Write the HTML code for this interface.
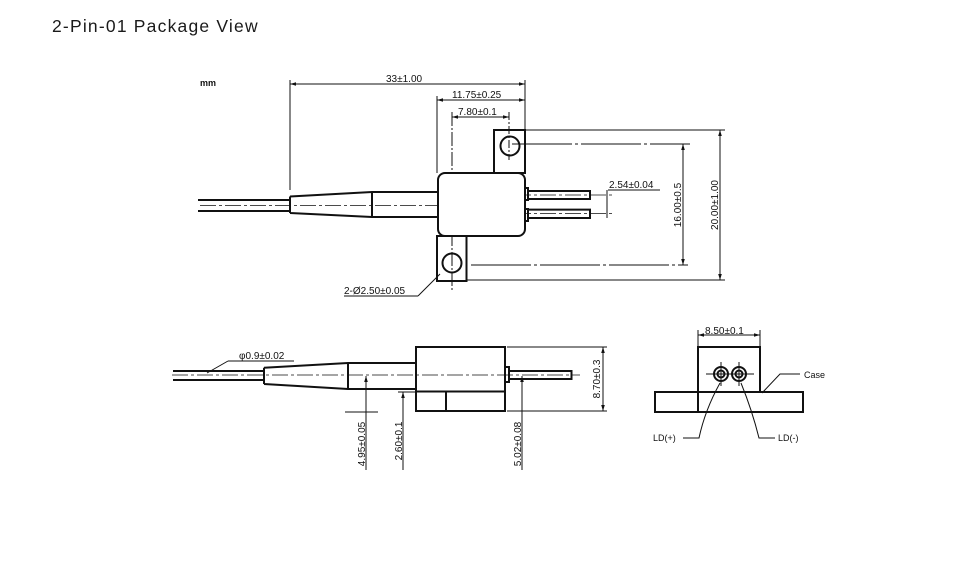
<!DOCTYPE html>
<html><head><meta charset="utf-8"><style>
html,body{margin:0;padding:0;background:#fff;width:954px;height:572px;overflow:hidden}
svg{display:block}
text{font-family:"Liberation Sans",sans-serif;fill:#111}
.t{font-size:10px}
</style></head><body>
<svg width="954" height="572" viewBox="0 0 954 572" xmlns="http://www.w3.org/2000/svg">
<defs>
<marker id="a" viewBox="0 0 10 10" refX="10" refY="5" markerWidth="6" markerHeight="6" orient="auto-start-reverse"><path d="M0 2 L10 5 L0 8z" fill="#111"/></marker>
</defs>
<text x="52" y="32" style="font-size:17.5px;letter-spacing:1.2px;fill:#1a1a1a">2-Pin-01 Package View</text>
<text x="200" y="86" style="font-size:9px;font-weight:bold">mm</text>

<g fill="none" stroke="#111" stroke-width="1">
 <line x1="290" y1="84" x2="525" y2="84" marker-start="url(#a)" marker-end="url(#a)"/>
 <line x1="290" y1="80" x2="290" y2="190"/>
 <line x1="525" y1="80" x2="525" y2="130"/>
 <line x1="437" y1="100" x2="525" y2="100" marker-start="url(#a)" marker-end="url(#a)"/>
 <line x1="437" y1="96" x2="437" y2="173"/>
 <line x1="452" y1="117" x2="509" y2="117" marker-start="url(#a)" marker-end="url(#a)"/>
 <line x1="509" y1="112" x2="509" y2="160" stroke-dasharray="8 2 2 2"/>
 <line x1="452" y1="112" x2="452" y2="290" stroke-dasharray="14 2 2 2"/>
 <line x1="525" y1="130" x2="725" y2="130"/>
 <line x1="512" y1="144" x2="690" y2="144" stroke-dasharray="60 3 3 3"/>
 <line x1="471" y1="265" x2="688" y2="265" stroke-dasharray="60 3 3 3"/>
 <line x1="466" y1="280" x2="725" y2="280"/>
 <line x1="683" y1="144" x2="683" y2="265" marker-start="url(#a)" marker-end="url(#a)"/>
 <line x1="720" y1="130" x2="720" y2="280" marker-start="url(#a)" marker-end="url(#a)"/>
 <line x1="607" y1="190" x2="607" y2="218"/>
 <line x1="608" y1="190" x2="660" y2="190"/>
 <line x1="344" y1="296" x2="418" y2="296"/>
 <line x1="418" y1="296" x2="440" y2="274"/>
 <line x1="200" y1="205.5" x2="438" y2="205.5" stroke-dasharray="16 3 3 3" stroke-width="0.7"/>
 <line x1="515" y1="195" x2="612" y2="195" stroke-dasharray="16 3 3 3" stroke-width="0.7"/>
 <line x1="515" y1="213.5" x2="612" y2="213.5" stroke-dasharray="16 3 3 3" stroke-width="0.7"/>
</g>
<g fill="none" stroke="#111" stroke-width="2">
 <rect x="494" y="130" width="31" height="43"/>
 <circle cx="510" cy="146" r="9.5"/>
 <rect x="438" y="173" width="87" height="63" rx="7" fill="#fff"/>
 <rect x="437" y="236" width="29.5" height="45"/>
 <circle cx="452" cy="263" r="9.5"/>
 <line x1="198" y1="200" x2="290" y2="200"/>
 <line x1="198" y1="211" x2="290" y2="211"/>
 <path d="M290 196.5 L372 192 L438 192 M290 213 L372 217 L438 217 M290 196.5 V213 M372 192 V217"/>
 <rect x="525" y="188" width="3" height="12"/>
 <rect x="525" y="209" width="3" height="12"/>
 <path d="M528 191 H590 V199 H528 M528 209.6 H590 V218 H528"/>
</g>
<g fill="#111">
 <text class="t" x="386" y="82">33±1.00</text>
 <text class="t" x="452" y="98">11.75±0.25</text>
 <text class="t" x="458" y="115">7.80±0.1</text>
 <text class="t" x="609" y="188">2.54±0.04</text>
 <text class="t" transform="translate(681,205) rotate(-90)" text-anchor="middle">16.00±0.5</text>
 <text class="t" transform="translate(718,205) rotate(-90)" text-anchor="middle">20.00±1.00</text>
 <text class="t" x="344" y="294">2-Ø2.50±0.05</text>
</g>

<g fill="none" stroke="#111" stroke-width="1">
 <line x1="172" y1="375" x2="580" y2="375" stroke-dasharray="16 3 3 3" stroke-width="0.7"/>
 <line x1="228" y1="361" x2="294" y2="361"/>
 <line x1="228" y1="361" x2="207" y2="373"/>
 <line x1="366" y1="376" x2="366" y2="470" marker-start="url(#a)"/>
 <line x1="345" y1="412" x2="378" y2="412"/>
 <line x1="403" y1="392" x2="403" y2="470" marker-start="url(#a)"/>
 <line x1="398" y1="392" x2="416" y2="392"/>
 <line x1="522" y1="376" x2="522" y2="470" marker-start="url(#a)"/>
 <line x1="507" y1="347" x2="607" y2="347"/>
 <line x1="507" y1="411" x2="607" y2="411"/>
 <line x1="603" y1="347" x2="603" y2="411" marker-start="url(#a)" marker-end="url(#a)"/>
</g>
<g fill="none" stroke="#111" stroke-width="2">
 <line x1="173" y1="371" x2="264" y2="371"/>
 <line x1="173" y1="380" x2="264" y2="380"/>
 <path d="M264 367.7 L348 363 L416 363 M264 384 L348 389 L416 389 M264 367.7 V384 M348 363 V389"/>
 <rect x="416" y="347" width="89" height="64"/>
 <line x1="416" y1="391.5" x2="505" y2="391.5"/>
 <line x1="446" y1="391.5" x2="446" y2="411"/>
 <rect x="505" y="367" width="4" height="15"/>
 <path d="M509 371 H571.5 V379 H509"/>
</g>
<g fill="#111">
 <text class="t" x="239" y="359">φ0.9±0.02</text>
 <text class="t" transform="translate(365,444) rotate(-90)" text-anchor="middle">4.95±0.05</text>
 <text class="t" transform="translate(402,441) rotate(-90)" text-anchor="middle">2.60±0.1</text>
 <text class="t" transform="translate(521,444) rotate(-90)" text-anchor="middle">5.02±0.08</text>
 <text class="t" transform="translate(600,379) rotate(-90)" text-anchor="middle">8.70±0.3</text>
</g>

<g fill="none" stroke="#111" stroke-width="1">
 <line x1="698" y1="335" x2="760" y2="335" marker-start="url(#a)" marker-end="url(#a)"/>
 <line x1="698" y1="330" x2="698" y2="347"/>
 <line x1="760" y1="330" x2="760" y2="347"/>
 <line x1="706" y1="374" x2="754" y2="374"/>
 <line x1="721" y1="362" x2="721" y2="386"/>
 <line x1="739" y1="362" x2="739" y2="386"/>
 <path d="M800 374 H780 L762 393"/>
 <path d="M683 438 H699 Q705 410 720 383"/>
 <path d="M775 438 H759 Q752 410 741 383"/>
</g>
<g fill="none" stroke="#111" stroke-width="2">
 <rect x="698" y="347" width="62" height="45"/>
 <rect x="655" y="392" width="148" height="20"/>
 <line x1="698" y1="392" x2="698" y2="412"/>
 <circle cx="721" cy="374" r="7"/>
 <circle cx="739" cy="374" r="7"/>
 <circle cx="721" cy="374" r="3.5"/>
 <circle cx="739" cy="374" r="3.5"/>
</g>
<g fill="#111">
 <text class="t" x="705" y="334">8.50±0.1</text>
 <text class="t" x="804" y="378" style="font-size:9px">Case</text>
 <text class="t" x="653" y="441" style="font-size:9px">LD(+)</text>
 <text class="t" x="778" y="441" style="font-size:9px">LD(-)</text>
</g>
</svg>
</body></html>
